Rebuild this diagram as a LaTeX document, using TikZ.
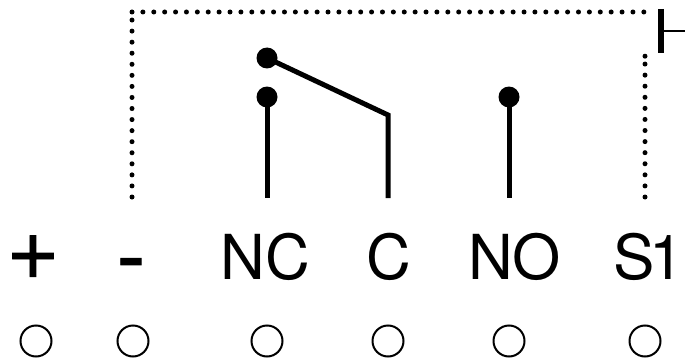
\documentclass[tikz,border=0pt]{standalone}
\usepackage{fontspec}
\setmainfont{TeX Gyre Heros}
\newfontfamily\signfont[FakeBold=1]{Liberation Sans}
\tikzset{
  x=1pt,y=-1pt,
  terminal/.style={circle,draw=black,line width=2pt,minimum size=31pt,inner sep=0pt,fill=white},
  contact/.style={circle,fill=black,minimum size=21pt,inner sep=0pt},
  solidwire/.style={line width=5pt,line join=miter,line cap=butt},
  dotwire/.style={line width=5pt,line cap=round,dash pattern=on 0pt off #1},
  label/.style={inner sep=0pt,font=\fontsize{62}{62}\selectfont,anchor=base},
  sign/.style={inner sep=0pt,font=\signfont\fontsize{84}{84}\selectfont,anchor=base}
}
\begin{document}
\begin{tikzpicture}
\useasboundingbox (0,0) rectangle (685,361);
% terminals
\node[terminal] (t1) at (36,341) {};
\node[terminal] (t2) at (133,341) {};
\node[terminal] (t3) at (267,341) {};
\node[terminal] (t4) at (388,341) {};
\node[terminal] (t5) at (509,341) {};
\node[terminal] (t6) at (645,341) {};
% labels
\node[sign] (lp) at (33,284) {+};
\node[sign] (lm) at (131,284) {-};
\node[label] (lnc) at (265.5,279.5) {NC};
\node[label] (lc) at (388.5,279.5) {C};
\node[label] (lno) at (514.5,279.5) {NO};
\node[label,anchor=base west] (ls) at (613.5,279.5) {S\kern-6pt 1};
% contacts
\node[contact] (arm) at (267,58) {};
\node[contact] (nc) at (267,97) {};
\node[contact] (no) at (509,97) {};
\coordinate (ncb) at (267,198);
\coordinate (cb) at (388,198);
\coordinate (cbend) at (388,115);
\coordinate (nob) at (509,198);
\draw[solidwire] (nc.center) -- (ncb);
\draw[solidwire] (no.center) -- (nob);
\draw[solidwire] (arm.center) -- (cbend) -- (cb);
% dotted wire
\coordinate (d1) at (132,197);
\coordinate (d1e) at (132,19.5);
\coordinate (d2) at (132,12);
\coordinate (d3) at (645,12);
\coordinate (d5) at (645,197);
\coordinate (d4) at (645,63.5);
\coordinate (d6) at (645,55.9);
\coordinate (d7) at (645,56.2);
\draw[dotwire=11.06pt] (d1) -- (d1e);
\draw[dotwire=10.89pt] (d2) -- (d3);
\draw[dotwire=11.08pt] (d5) -- (d4);
\draw[dotwire=1pt] (d7) -- (d6);
% switch symbol
\coordinate (s1) at (661,9);
\coordinate (s2) at (661,53);
\coordinate (s3) at (663,31);
\coordinate (s4) at (685,31);
\draw[line width=5.5pt] (s1) -- (s2);
\draw[line width=2.8pt] (s3) -- (s4);
\end{tikzpicture}
\end{document}
